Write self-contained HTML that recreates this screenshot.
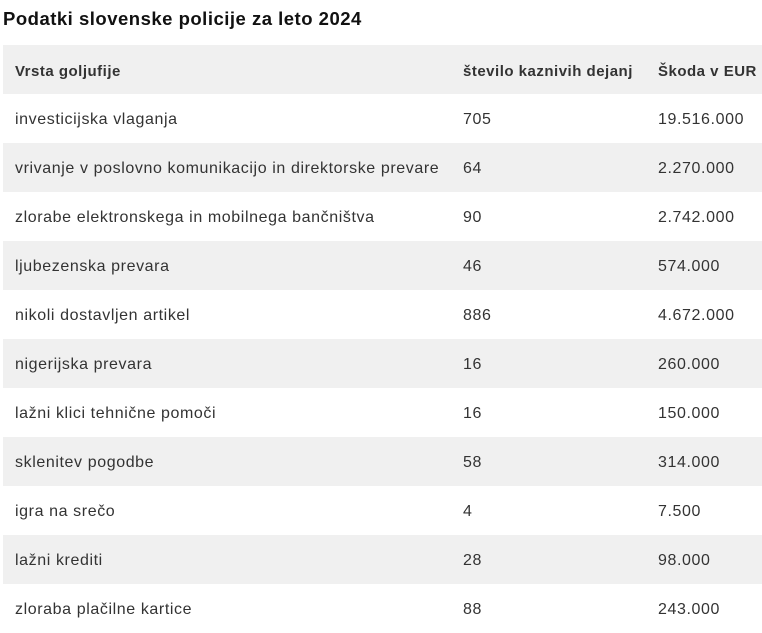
<!DOCTYPE html>
<html><head><meta charset="utf-8"><style>
body{margin:0;width:762px;height:633px;background:#fff;font-family:"Liberation Sans",sans-serif;color:#333;overflow:hidden}
h1{position:absolute;left:3px;top:8px;margin:0;font-size:18.5px;font-weight:bold;color:#111;letter-spacing:0.5px}
table{position:absolute;left:3px;top:45px;width:759px;border-collapse:collapse;font-size:16px;letter-spacing:0.6px}
td,th{height:46px;padding:3px 0 0 12px;text-align:left;vertical-align:middle;white-space:nowrap}
th{font-weight:bold;color:#333;font-size:15px;letter-spacing:0.5px}
tr:nth-child(odd){background:#f0f0f0}
</style></head><body>
<h1>Podatki slovenske policije za leto 2024</h1>
<table>
<colgroup><col style="width:448px"><col style="width:195px"><col></colgroup>
<tr><th>Vrsta goljufije</th><th>število kaznivih dejanj</th><th>Škoda v EUR</th></tr>
<tr><td>investicijska vlaganja</td><td>705</td><td>19.516.000</td></tr>
<tr><td>vrivanje v poslovno komunikacijo in direktorske prevare</td><td>64</td><td>2.270.000</td></tr>
<tr><td>zlorabe elektronskega in mobilnega bančništva</td><td>90</td><td>2.742.000</td></tr>
<tr><td>ljubezenska prevara</td><td>46</td><td>574.000</td></tr>
<tr><td>nikoli dostavljen artikel</td><td>886</td><td>4.672.000</td></tr>
<tr><td>nigerijska prevara</td><td>16</td><td>260.000</td></tr>
<tr><td>lažni klici tehnične pomoči</td><td>16</td><td>150.000</td></tr>
<tr><td>sklenitev pogodbe</td><td>58</td><td>314.000</td></tr>
<tr><td>igra na srečo</td><td>4</td><td>7.500</td></tr>
<tr><td>lažni krediti</td><td>28</td><td>98.000</td></tr>
<tr><td>zloraba plačilne kartice</td><td>88</td><td>243.000</td></tr>
</table>
</body></html>
